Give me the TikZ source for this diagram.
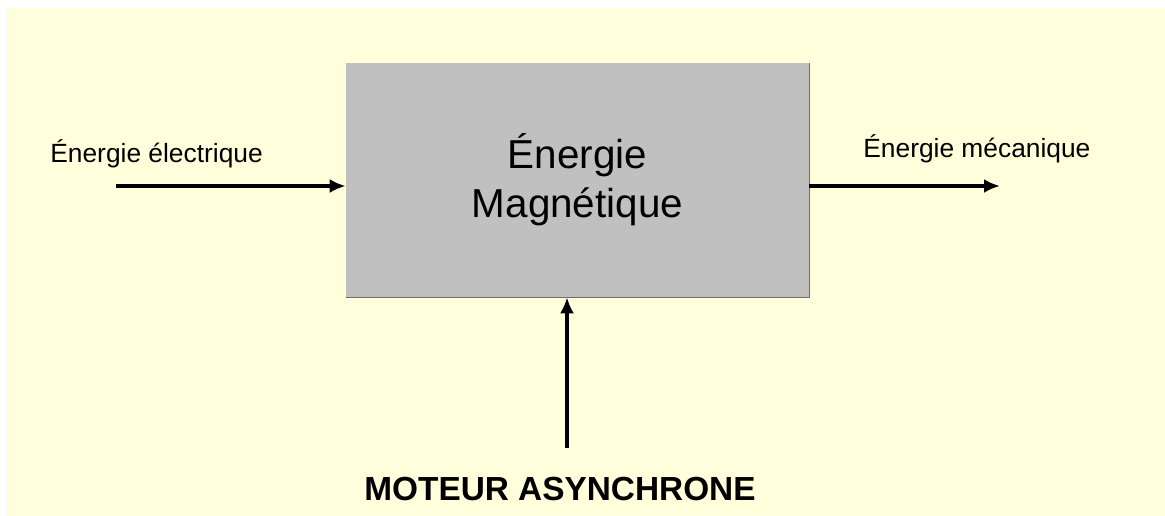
\documentclass[tikz,border=0pt]{standalone}
\usepackage{fontspec}
\setmainfont{Liberation Sans}
\usetikzlibrary{arrows.meta,positioning,calc}
\definecolor{creamBg}{RGB}{255,255,220}
\definecolor{boxGray}{RGB}{192,192,192}
\definecolor{edgeGray}{RGB}{110,110,110}
\tikzset{
  energy/.style={fill=boxGray, draw=none, align=center, minimum width=9.26cm, minimum height=4.68cm, font=\fontsize{23}{28}\selectfont},
  flow/.style={anchor=base west, inner sep=0pt, font=\fontsize{15}{18}\selectfont},
  title/.style={anchor=base, inner sep=0pt, font=\bfseries\fontsize{19}{23}\selectfont},
  arrow/.style={-{Latex[length=3.2mm,width=2.8mm]}, line width=2.2pt},
  edge/.style={draw=edgeGray, line width=0.8pt}
}

\begin{document}
\begin{tikzpicture}[x=0.02cm, y=-0.02cm]
  \useasboundingbox (0,0) rectangle (1165,516);
  \fill[creamBg] (7,8) rectangle (1165,516);

  \node[energy] (box) at (577.5,180) {Énergie\\Magnétique};
  \draw[edge] (box.north east) -- (box.south east) -- (box.south west);

  \node[flow] (elec) at (50,163) {Énergie électrique};
  \node[flow] (meca) at (863,158) {Énergie mécanique};
  \node[title] (moteur) at (560,500) {MOTEUR ASYNCHRONE};

  \coordinate (in) at (116,186);
  \coordinate (out) at (1000,186);
  \coordinate (up) at (567,448);

  \draw[arrow] (in) -- (box.west |- in);
  \draw[arrow] (box.east |- out) -- (out);
  \draw[arrow] (up) -- (box.south -| up);
\end{tikzpicture}
\end{document}
